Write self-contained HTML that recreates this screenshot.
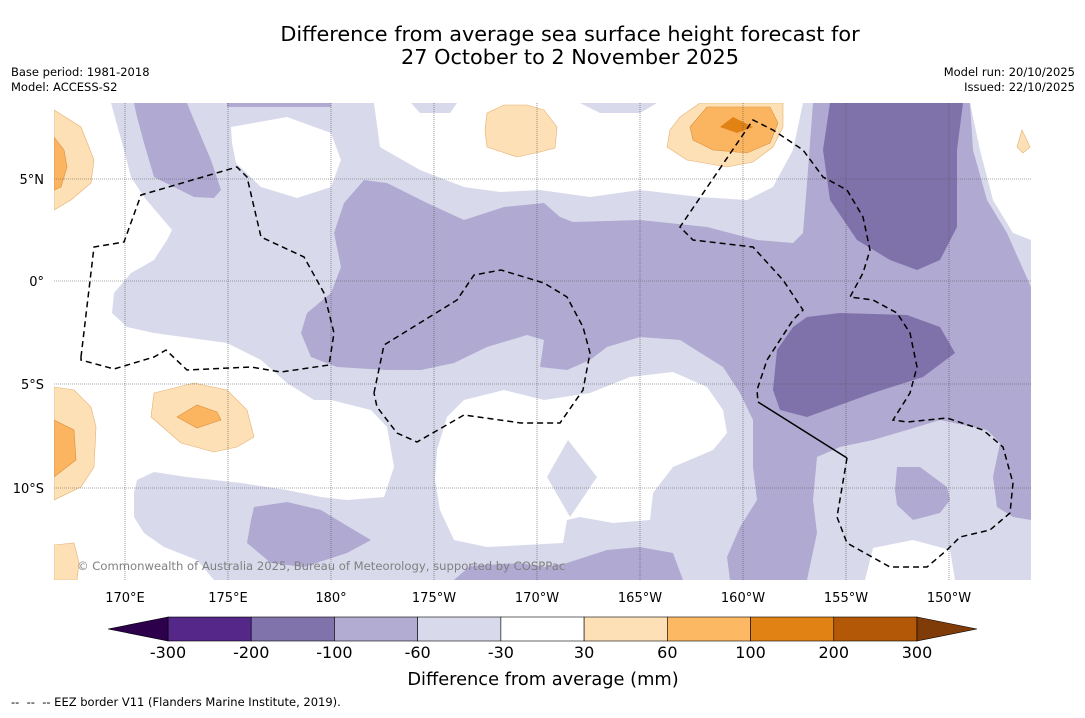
<!DOCTYPE html>
<html><head><meta charset="utf-8"><style>
body{margin:0;background:#fff;width:1085px;height:713px;overflow:hidden;font-family:"Liberation Sans","DejaVu Sans",sans-serif;}
</style></head><body>
<svg width="1085" height="713" xmlns="http://www.w3.org/2000/svg" font-family="'DejaVu Sans','Liberation Sans',sans-serif">
<text x="570" y="41" font-size="20.8" text-anchor="middle">Difference from average sea surface height forecast for</text>
<text x="570" y="64" font-size="20.8" text-anchor="middle">27 October to 2 November 2025</text>
<text x="11" y="76" font-size="11.5">Base period: 1981-2018</text>
<text x="11" y="91" font-size="11.5">Model: ACCESS-S2</text>
<text x="1075" y="76" font-size="11.5" text-anchor="end">Model run: 20/10/2025</text>
<text x="1075" y="91" font-size="11.5" text-anchor="end">Issued: 22/10/2025</text>
<defs><clipPath id="mc"><rect x="54" y="103" width="977" height="477"/></clipPath></defs>
<g clip-path="url(#mc)">
<rect x="54" y="103" width="977" height="477" fill="#d8daeb"/>
<g fill="#ffffff">
<polygon points="54,103 111,103 124,150 131,177 144,197 172,230 167,240 154,260 131,273 114,293 112,313 127,327 154,333 227,343 261,360 287,383 314,400 331,400 371,410 387,427 394,467 384,497 347,500 321,497 287,490 241,483 187,477 154,472 137,480 134,493 134,517 144,533 164,547 197,560 214,580 54,580"/>
<polygon points="437,450 447,417 464,400 504,390 544,400 590,393 630,377 673,372 707,387 723,410 727,433 713,450 673,467 653,493 650,520 613,523 580,517 567,520 563,543 487,547 454,540 440,510 435,480"/>
<polygon points="231,127 287,117 331,133 341,160 331,187 297,198 261,187 236,163 232,143"/>
<polygon points="374,103 803,103 793,150 773,187 747,200 700,197 640,190 590,197 540,190 500,192 464,187 420,170 380,147"/>
<polygon points="970,103 980,150 993,200 1013,233 1031,240 1031,103"/>
<polygon points="873,548 913,540 950,550 955,580 865,580"/>
</g>
<g fill="#d8daeb">
<polygon points="568,440 597,477 570,517 547,477"/>
<polygon points="411,103 457,103 450,113 420,113"/>
<polygon points="580,103 657,103 640,113 600,113"/>
</g>
<g fill="#b0a9d1">
<polygon points="134,103 187,103 194,120 211,160 221,190 214,198 194,197 154,177 144,143 137,117"/>
<polygon points="227,103 331,103 331,107 227,107"/>
<polygon points="301,333 307,313 331,293 341,267 334,233 344,203 364,180 387,183 427,203 464,220 504,207 544,203 560,217 573,222 640,220 707,227 757,240 793,243 803,233 807,183 813,103 970,103 973,150 987,200 1007,233 1031,287 1031,520 1013,517 997,507 993,477 1000,443 987,430 940,420 907,430 873,440 840,447 817,457 813,500 817,533 807,580 730,580 727,557 740,527 757,500 753,467 753,420 740,393 723,367 680,340 640,337 607,347 590,360 567,370 540,367 544,340 527,335 487,347 454,363 421,370 387,370 337,367 311,357"/>
<polygon points="897,467 920,467 947,487 950,500 940,513 913,520 897,505 895,490"/>
<polygon points="254,507 287,502 321,510 354,530 371,540 347,553 304,567 271,563 247,543 251,520"/>
<polygon points="454,580 470,566 520,563 544,567 567,563 607,550 640,547 673,553 683,580"/>
</g>
<g fill="#7f72aa">
<polygon points="830,103 963,103 957,150 957,227 940,260 917,270 890,260 857,240 830,200 823,150"/>
<polygon points="807,317 840,313 907,315 940,327 955,353 923,377 873,393 807,417 780,410 773,390 777,350 793,327"/>
</g>
<g fill="#fde0b6" stroke="#e6b070" stroke-width="0.6">
<polygon points="54,110 81,127 94,160 91,183 71,200 54,210"/>
<polygon points="54,387 74,390 91,407 96,427 94,467 81,487 54,500"/>
<polygon points="154,393 194,383 227,390 247,410 254,437 237,447 214,452 181,443 151,417"/>
<polygon points="54,545 74,543 79,563 77,580 54,580"/>
<polygon points="487,113 504,105 527,105 544,110 557,127 555,148 540,152 517,157 487,147 485,130"/>
<polygon points="680,117 700,103 783,103 783,127 773,147 753,162 727,167 687,160 667,147 670,130"/>
<polygon points="1017,147 1022,130 1030,147 1023,153"/>
</g>
<g fill="#fbb45f" stroke="#d99040" stroke-width="0.6">
<polygon points="54,137 64,150 67,167 61,187 54,190"/>
<polygon points="54,420 74,430 76,460 54,477"/>
<polygon points="177,417 197,405 217,412 221,420 197,428"/>
<polygon points="690,127 707,107 770,107 778,123 770,143 747,153 713,150 693,140"/>
</g>
<polygon points="720,127 733,117 753,127 737,133" fill="#e08214"/>
<g stroke="#555" stroke-width="0.6" stroke-dasharray="1,1">
<line x1="125" y1="103" x2="125" y2="580"/><line x1="228" y1="103" x2="228" y2="580"/><line x1="331" y1="103" x2="331" y2="580"/><line x1="434" y1="103" x2="434" y2="580"/><line x1="537" y1="103" x2="537" y2="580"/><line x1="640" y1="103" x2="640" y2="580"/><line x1="743" y1="103" x2="743" y2="580"/><line x1="846" y1="103" x2="846" y2="580"/><line x1="949" y1="103" x2="949" y2="580"/>
<line x1="54" y1="179" x2="1031" y2="179"/><line x1="54" y1="281" x2="1031" y2="281"/><line x1="54" y1="384" x2="1031" y2="384"/><line x1="54" y1="488" x2="1031" y2="488"/>
</g>
<g fill="none" stroke="#000" stroke-width="1.5" stroke-dasharray="6,4">
<polyline points="81,357 94,247 124,242 141,195 237,167 247,177 261,237 304,257 324,293 334,333 329,365 281,372 251,367 187,370 166,350 154,357 114,369 81,360 81,357"/>
<polyline points="374,393 384,345 457,300 474,275 501,270 544,283 567,297 583,327 590,353 583,390 560,423 540,423 521,423 464,415 417,442 397,433 377,407 374,393"/>
<polyline points="847,458 837,517 847,543 890,567 927,567 947,550 960,537 990,530 1010,513 1013,483 1003,447 983,430 947,418 907,422 893,420 910,393 917,367 910,333 897,313 873,300 850,297 863,273 870,250 863,217 847,190 823,177 803,150 773,130 753,120 680,227 693,240 753,247 783,280 803,310 793,320 767,360 757,390 758,402"/>
</g>
<polyline points="758,402 847,458" fill="none" stroke="#000" stroke-width="1.5"/>
<text x="77" y="570" font-size="11.6" fill="#808080">© Commonwealth of Australia 2025, Bureau of Meteorology, supported by COSPPac</text>
</g>
<g font-size="13" text-anchor="middle">
<text x="125" y="602">170°E</text><text x="228" y="602">175°E</text><text x="331" y="602">180°</text><text x="434" y="602">175°W</text><text x="537" y="602">170°W</text><text x="640" y="602">165°W</text><text x="743" y="602">160°W</text><text x="846" y="602">155°W</text><text x="949" y="602">150°W</text>
</g>
<g font-size="13" text-anchor="end">
<text x="44" y="184">5°N</text><text x="44" y="286">0°</text><text x="44" y="389">5°S</text><text x="44" y="493">10°S</text>
</g>
<g id="cbar"></g>
<text x="543" y="685" font-size="17.8" text-anchor="middle">Difference from average (mm)</text>
<text x="11" y="706" font-size="11.5" xml:space="preserve" style="white-space:pre">--  --  -- EEZ border V11 (Flanders Marine Institute, 2019).</text>
</svg>
<script>
const bounds = [-300,-200,-100,-60,-30,30,60,100,200,300];
const colors = ["#542788","#8073ac","#b2abd2","#d8daeb","#ffffff","#fee0b6","#fdb863","#e08214","#b35806"];
const extColors = ["#2d004b","#7f3b08"];
const NS="http://www.w3.org/2000/svg";
const g=document.getElementById('cbar');
const x0=168,x1=917,y0=617,h=24;
const w=(x1-x0)/colors.length;
function bx(i){return x0+i*w;}
colors.forEach((c,i)=>{
  const r=document.createElementNS(NS,'rect');
  r.setAttribute('x',bx(i));r.setAttribute('y',y0);r.setAttribute('width',w);r.setAttribute('height',h);
  r.setAttribute('fill',c);r.setAttribute('stroke','#000');r.setAttribute('stroke-width','0.6');
  
  
  g.appendChild(r);
});
const tl=document.createElementNS(NS,'polygon');
tl.setAttribute('points',`${x0},${y0} ${x0-60},${y0+h/2} ${x0},${y0+h}`);
tl.setAttribute('fill',extColors[0]);tl.setAttribute('stroke','#000');tl.setAttribute('stroke-width','0.6');


g.appendChild(tl);
const tr=document.createElementNS(NS,'polygon');
tr.setAttribute('points',`${x1},${y0} ${x1+60},${y0+h/2} ${x1},${y0+h}`);
tr.setAttribute('fill',extColors[1]);tr.setAttribute('stroke','#000');tr.setAttribute('stroke-width','0.6');


g.appendChild(tr);
bounds.forEach((b,i)=>{
  const t=document.createElementNS(NS,'text');
  t.setAttribute('x',bx(i));t.setAttribute('y',658);t.setAttribute('font-size','16');t.setAttribute('text-anchor','middle');
  t.textContent=b;
  
  
  g.appendChild(t);
});
</script>
</body></html>
